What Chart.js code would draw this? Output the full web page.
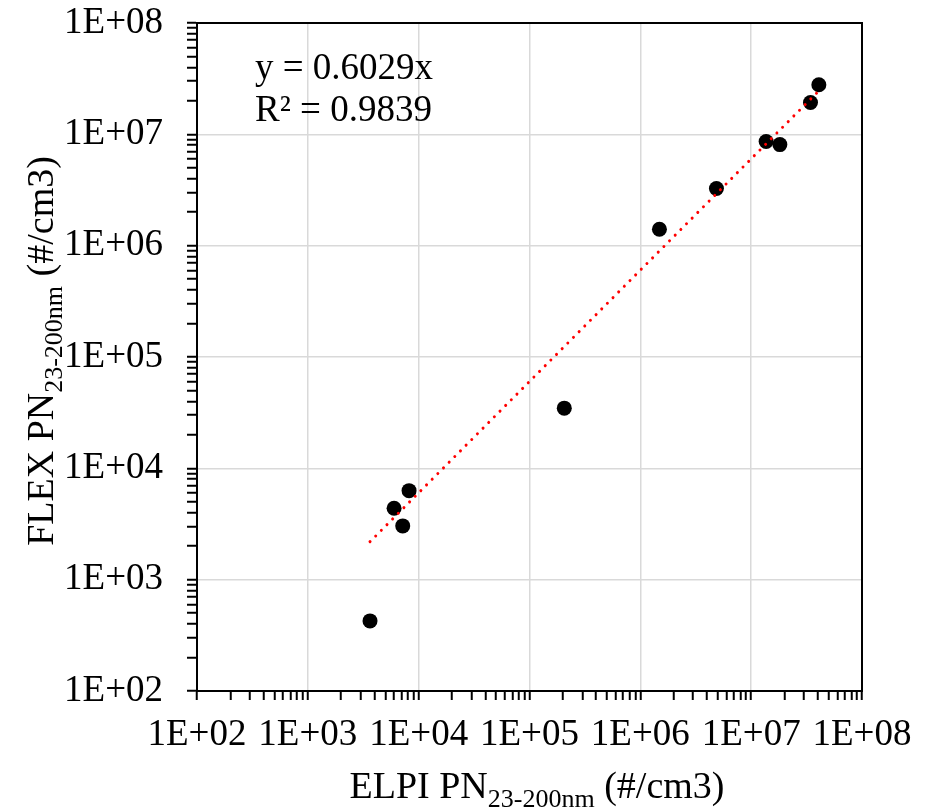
<!DOCTYPE html>
<html>
<head>
<meta charset="utf-8">
<script src="https://cdn.jsdelivr.net/npm/chart.js@4/dist/chart.umd.min.js"></script>
<style>
  html, body { margin: 0; padding: 0; background: #fff; }
  #wrap { width: 925px; height: 809px; position: relative; }
</style>
</head>
<body>
<div id="wrap"><canvas id="chart"></canvas></div>
<script>
const elpi = [3640, 6000, 8190, 7180, 206000, 1487000, 4860000, 13650000, 18150000, 34300000, 40800000];
const flex = [426, 4380, 6300, 3040, 34700, 1406000, 3260000, 8610000, 8090000, 19300000, 27900000];

//Trendline from the equation on the chart
const slope = 0.6029;
const trendX = [3640, 40800000];
const equation = ['y = 0.6029x', 'R\u00b2 = 0.9839'];

//Log axis ticks (1..9 x 10^n), labels only on decades
const decades = [100, 1000, 10000, 100000, 1000000, 10000000, 100000000];
const tickValues = [];
for (var i = 0; i < decades.length; i++) {
    for (var d = 1; d <= 9; d++) {
        if (i == decades.length - 1 && d > 1) break;
        tickValues.push(decades[i] * d);
    }
}

const FONT = '"Liberation Serif", "Times New Roman", serif';

function isDecade(v) {
    var e = Math.log10(v);
    return Math.abs(e - Math.round(e)) < 1e-9;
}

function tickLabel(v) {
    if (!isDecade(v)) return '';
    var e = Math.round(Math.log10(v));
    return '1E+' + String(e).padStart(2, '0');
}

function buildTicks(scale) {
    scale.ticks = tickValues.map(function(v) {
        return { value: v, major: isDecade(v) };
    });
}

function gridColour(ctx) {
    return (ctx.tick && isDecade(ctx.tick.value)) ? '#d9d9d9' : 'rgba(0,0,0,0)';
}

//Draws text with a subscript part, returns width
function drawParts(c, parts, x, y, measureOnly) {
    var w = 0;
    for (var i = 0; i < parts.length; i++) {
        c.font = parts[i].size + 'px ' + FONT;
        if (!measureOnly) c.fillText(parts[i].text, x + w, y + parts[i].dy);
        w += c.measureText(parts[i].text).width;
    }
    return w;
}

function titleParts(name) {
    return [
        { text: name + ' PN', size: 38, dy: 0 },
        { text: '23-200nm', size: 26, dy: 9 },
        { text: ' (#/cm3)', size: 38, dy: 0 }
    ];
}

const extras = {
    id: 'extras',
    afterDraw: function(chart) {
        var c = chart.ctx;
        var a = chart.chartArea;
        c.save();

        //Plot frame
        c.strokeStyle = '#000';
        c.lineWidth = 2;
        c.strokeRect(a.left, a.top, a.right - a.left, a.bottom - a.top);

        c.fillStyle = '#000';
        c.textAlign = 'left';
        c.textBaseline = 'alphabetic';

        //X title
        var xp = titleParts('ELPI');
        var xw = drawParts(c, xp, 0, 0, true);
        drawParts(c, xp, 537 - xw / 2, 798, false);

        //Y title
        var yp = titleParts('FLEX');
        var yw = drawParts(c, yp, 0, 0, true);
        c.save();
        c.translate(53, 351 + yw / 2);
        c.rotate(-Math.PI / 2);
        drawParts(c, yp, 0, 0, false);
        c.restore();

        //Equation
        c.font = '37px ' + FONT;
        c.fillText(equation[0], 255, 79);
        c.fillText(equation[1], 255, 121);

        c.restore();
    }
};

new Chart(document.getElementById('chart'), {
    type: 'scatter',
    data: {
        datasets: [
            {
                type: 'line',
                label: 'Trend',
                data: trendX.map(function(x) { return { x: x, y: slope * x }; }),
                borderColor: '#ff0000',
                borderWidth: 3,
                borderDash: [0.01, 8],
                borderCapStyle: 'round',
                pointRadius: 0,
                fill: false
            },
            {
                label: 'PN',
                data: elpi.map(function(x, i) { return { x: x, y: flex[i] }; }),
                backgroundColor: '#000',
                borderWidth: 0,
                pointRadius: 7.5
            }
        ]
    },
    options: {
        responsive: true,
        maintainAspectRatio: false,
        animation: false,
        layout: { padding: { left: 0, right: 63, top: 23, bottom: 0 } },
        plugins: {
            legend: { display: false },
            tooltip: { enabled: false }
        },
        scales: {
            x: {
                type: 'logarithmic',
                min: 100,
                max: 100000000,
                afterBuildTicks: buildTicks,
                afterFit: function(s) { s.height = 118; s.paddingLeft = 0; s.paddingRight = 0; },
                grid: { color: gridColour, lineWidth: 1.5, tickColor: '#000', tickWidth: 2, tickLength: 9 },
                border: { color: '#000', width: 2 },
                ticks: {
                    autoSkip: false,
                    maxRotation: 0,
                    minRotation: 0,
                    padding: 13,
                    color: '#000',
                    font: { family: FONT, size: 37 },
                    callback: function(v) { return tickLabel(v); }
                }
            },
            y: {
                type: 'logarithmic',
                min: 100,
                max: 100000000,
                afterBuildTicks: buildTicks,
                afterFit: function(s) { s.width = 197; s.paddingTop = 0; s.paddingBottom = 0; },
                grid: { color: gridColour, lineWidth: 1.5, tickColor: '#000', tickWidth: 2, tickLength: 10 },
                border: { color: '#000', width: 2 },
                ticks: {
                    autoSkip: false,
                    padding: 24,
                    color: '#000',
                    font: { family: FONT, size: 37 },
                    callback: function(v) { return tickLabel(v); }
                }
            }
        }
    },
    plugins: [extras]
});
</script>
</body>
</html>
